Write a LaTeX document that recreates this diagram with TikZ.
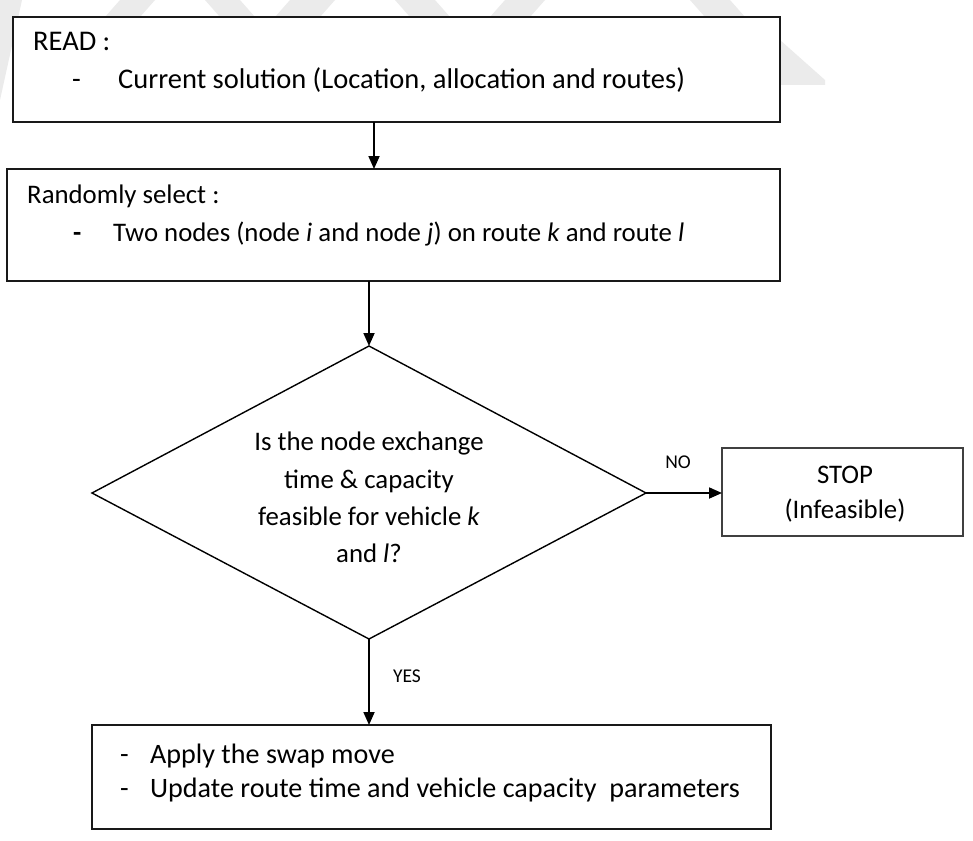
\documentclass[tikz,border=0pt]{standalone}
\usepackage{fontspec}
\setmainfont{Carlito}
\usetikzlibrary{arrows.meta}

\tikzset{
  x=1pt, y=-1pt,
  boxline/.style={draw=black!90, line width=1.6pt},
  thinbox/.style={draw=black!75, line width=1.1pt},
  flow/.style={draw=black, line width=1.8pt, -{Triangle[length=13pt,width=11pt]}},
  txt/.style={inner sep=0pt, anchor=base west, font=\fontsize{26.8}{37.5}\selectfont},
  bigtxt/.style={inner sep=0pt, anchor=base west, font=\fontsize{28.5}{37.5}\selectfont},
  ctxt/.style={inner sep=0pt, anchor=base, font=\fontsize{26.8}{37.5}\selectfont},
  lbl/.style={inner sep=0pt, anchor=base, font=\fontsize{19.5}{23}\selectfont}
}

\begin{document}
\begin{tikzpicture}
\useasboundingbox (0,0) rectangle (973,840);
\fill[white] (0,0) rectangle (973,840);

% faint background stripes
\fill[black!8] (0,100) -- (22,0) -- (0,0) -- cycle;
\fill[black!8] (120,0) -- (155,0) -- (140,17) -- (105,17) -- cycle;
\fill[black!8] (205,0) -- (240,0) -- (255,17) -- (220,17) -- cycle;
\fill[black!8] (290,0) -- (335,0) -- (320,17) -- (275,17) -- cycle;
\fill[black!8] (395,0) -- (435,0) -- (450,17) -- (410,17) -- cycle;
\fill[black!8] (505,0) -- (545,0) -- (530,17) -- (490,17) -- cycle;
\fill[black!8] (690,0) -- (730,0) -- (745,17) -- (705,17) -- cycle;
\fill[black!8] (780,40) -- (825,80) -- (825,85) -- (780,85) -- cycle;

% first box
\draw[boxline, fill=white] (13,17) rectangle (780,122);
\node[bigtxt] (readhead) at (33,51) {READ :};
\node[bigtxt] (readdash) at (72,89) {-};
\node[bigtxt] (readitem) at (118,89) {Current solution (Location, allocation and routes)};

% second box
\draw[boxline, fill=white] (7,169) rectangle (780,281);
\node[txt] (selhead) at (27,203) {Randomly select :};
\node[txt] (seldash) at (73,241) {\textbf{-}};
\node[txt] (selitem) at (113,241) {Two nodes (node \textit{i} and node \textit{j}) on route \textit{k} and route \textit{l}};

% decision diamond
\coordinate (dtop) at (369,346);
\coordinate (dleft) at (92,493);
\coordinate (dright) at (646,493);
\coordinate (dbot) at (369,639);
\draw[line width=1.4pt] (dtop) -- (dright) -- (dbot) -- (dleft) -- cycle;
\node[ctxt] (q1) at (369,450) {Is the node exchange};
\node[ctxt] (q2) at (369,488) {time \& capacity};
\node[ctxt] (q3) at (369,525) {feasible for vehicle \textit{k}};
\node[ctxt] (q4) at (369,562) {and \textit{l}?};

% stop box
\draw[thinbox, fill=white] (722,448) rectangle (963,536);
\node[ctxt] (stop1) at (845,483) {STOP};
\node[ctxt] (stop2) at (845,518) {(Infeasible)};
\coordinate (stopin) at (722,493);

% update box
\draw[boxline, fill=white] (92,725) rectangle (771,829);
\node[bigtxt, font=\fontsize{28.1}{37.5}\selectfont] (updash1) at (120,763) {-};
\node[bigtxt, font=\fontsize{28.1}{37.5}\selectfont] (upitem1) at (150,763) {Apply the swap move};
\node[bigtxt, font=\fontsize{28.1}{37.5}\selectfont] (updash2) at (120,797) {-};
\node[bigtxt, font=\fontsize{28.1}{37.5}\selectfont] (upitem2) at (150,797) {Update route time and vehicle capacity \ parameters};

% connectors
\coordinate (a1s) at (374,122); \coordinate (a1e) at (374,169);
\draw[flow] (a1s) -- (a1e);
\coordinate (a2s) at (369,281);
\draw[flow] (a2s) -- (dtop);
\draw[flow] (dright) -- (stopin);
\coordinate (a4e) at (369,725);
\draw[flow] (dbot) -- (a4e);

\node[lbl] (nolbl) at (678,468) {NO};
\node[lbl] (yeslbl) at (407,682) {YES};
\end{tikzpicture}
\end{document}
